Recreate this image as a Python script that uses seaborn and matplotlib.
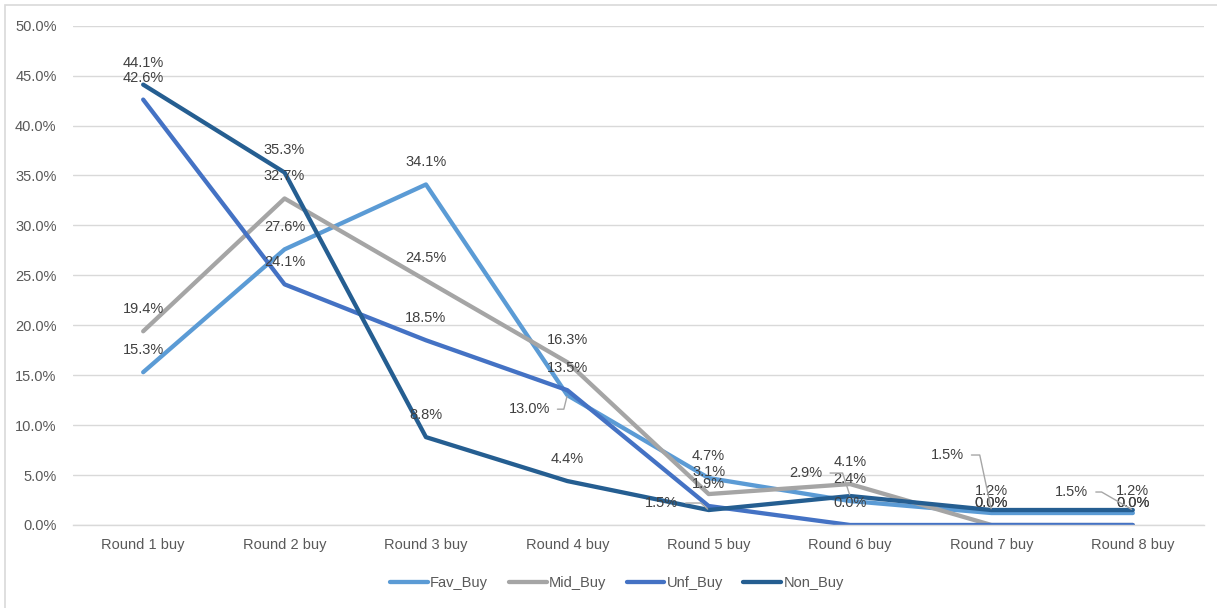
import matplotlib
matplotlib.use("Agg")
import matplotlib.pyplot as plt
from matplotlib.patches import Rectangle
from matplotlib.ticker import FuncFormatter, MultipleLocator
import pandas as pd
import seaborn as sns

# ---- data (percent of buyers per round) ----
rounds = ["Round 1 buy", "Round 2 buy", "Round 3 buy", "Round 4 buy",
          "Round 5 buy", "Round 6 buy", "Round 7 buy", "Round 8 buy"]
series_names = ["Fav_Buy", "Mid_Buy", "Unf_Buy", "Non_Buy"]
fav_buy = [15.3, 27.6, 34.1, 13.0, 4.7, 2.4, 1.2, 1.2]
mid_buy = [19.4, 32.7, 24.5, 16.3, 3.1, 4.1, 0.0, 0.0]
unf_buy = [42.6, 24.1, 18.5, 13.5, 1.9, 0.0, 0.0, 0.0]
non_buy = [44.1, 35.3, 8.8, 4.4, 1.5, 2.9, 1.5, 1.5]

colors = {"Fav_Buy": "#5B9BD5", "Mid_Buy": "#A5A5A5",
          "Unf_Buy": "#4472C4", "Non_Buy": "#255E91"}

values = {"Fav_Buy": fav_buy, "Mid_Buy": mid_buy,
          "Unf_Buy": unf_buy, "Non_Buy": non_buy}

df = pd.DataFrame(
    [(r, s, v) for s in series_names for r, v in zip(rounds, values[s])],
    columns=["round", "series", "value"],
)

# labels that were pulled aside and joined to their point by a leader line:
# (series, round index) -> (offset in pixels, leader angle at the point)
moved_labels = {
    ("Fav_Buy", 3): ((-38, -14), 76),
    ("Non_Buy", 4): ((-47, 7), -42),
    ("Non_Buy", 5): ((-44, 23), -72),
    ("Non_Buy", 6): ((-44, 55), -78),
    ("Non_Buy", 7): ((-61, 18), -30),
}

sns.set_theme(style="white")
plt.rcParams["font.family"] = ["Liberation Sans", "DejaVu Sans"]

W, H = 1217, 608
fig = plt.figure(figsize=(W / 100, H / 100), dpi=100)
ax = fig.add_axes([72.5 / W, 1 - 525 / H, 1131 / W, (525 - 25.7) / H])

sns.lineplot(data=df, x="round", y="value", hue="series",
             hue_order=series_names, palette=colors, linewidth=3.1,
             sort=False, errorbar=None, ax=ax)

ax.set_xlim(-0.5, len(rounds) - 0.5)
ax.set_ylim(0, 50)
ax.yaxis.set_major_locator(MultipleLocator(5))
ax.yaxis.set_major_formatter(FuncFormatter(lambda v, _: f"{v:.1f}%"))
ax.set_xlabel("")
ax.set_ylabel("")

ax.grid(axis="y", color="#D9D9D9", linewidth=1.0)
ax.grid(axis="x", visible=False)
ax.set_axisbelow(True)
for side in ("top", "right", "left"):
    ax.spines[side].set_visible(False)
ax.spines["bottom"].set_color("#D9D9D9")
ax.spines["bottom"].set_linewidth(1.0)
ax.tick_params(axis="both", length=0, labelsize=10.5, labelcolor="#595959")
ax.tick_params(axis="y", pad=11.5)
ax.tick_params(axis="x", pad=9)

# data labels
for s in series_names:
    for i, v in enumerate(values[s]):
        key = (s, i)
        if key in moved_labels:
            (dx, dy), ang = moved_labels[key]
            ax.annotate(f"{v:.1f}%", xy=(i, v), xytext=(dx, dy),
                        textcoords="offset pixels", ha="center", va="center",
                        fontsize=10.5, color="#404040",
                        arrowprops=dict(arrowstyle="-", color="#A6A6A6",
                                        lw=1.0, shrinkA=3, shrinkB=1,
                                        connectionstyle=f"angle,angleA=0,angleB={ang},rad=0"))
        else:
            ax.annotate(f"{v:.1f}%", xy=(i, v), xytext=(0, 22),
                        textcoords="offset pixels", ha="center", va="center",
                        fontsize=10.5, color="#404040")

handles, labels = ax.get_legend_handles_labels()
ax.legend(handles, labels, loc="center", bbox_to_anchor=(617 / W, 1 - 583 / H),
          bbox_transform=fig.transFigure, ncol=4, frameon=False,
          fontsize=10.5, handlelength=2.6, handletextpad=0.15,
          columnspacing=1.4, labelcolor="#595959")

# chart area border
fig.patches.append(Rectangle((5 / W, -0.1), 1.2, 1.1 - 5.5 / H,
                             transform=fig.transFigure, fill=False,
                             edgecolor="#D9D9D9", linewidth=1.2))

fig.savefig("out.png", dpi=100)
